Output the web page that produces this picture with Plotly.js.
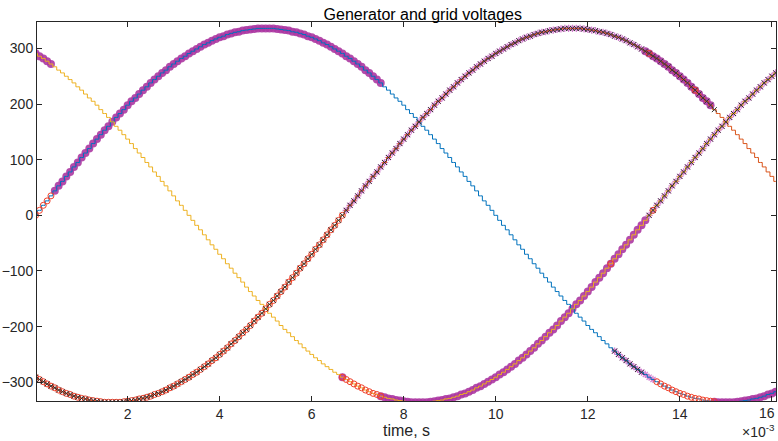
<!DOCTYPE html>
<html><head><meta charset="utf-8">
<script src="https://cdn.plot.ly/plotly-3.0.1.min.js"></script>
<style>html,body{margin:0;padding:0;background:#fff}#chart{width:778px;height:441px}</style>
</head><body><div id="chart"></div>
<script>
// time in milliseconds (axis shows x10^-3 s)
const timeMs = [
0,0.083,0.167,0.25,0.333,0.417,0.5,0.583,0.667,0.75,0.833,0.917,
1,1.083,1.167,1.25,1.333,1.417,1.5,1.583,1.667,1.75,1.833,1.917,
2,2.083,2.167,2.25,2.333,2.417,2.5,2.583,2.667,2.75,2.833,2.917,
3,3.083,3.167,3.25,3.333,3.417,3.5,3.583,3.667,3.75,3.833,3.917,
4,4.083,4.167,4.25,4.333,4.417,4.5,4.583,4.667,4.75,4.833,4.917,
5,5.083,5.167,5.25,5.333,5.417,5.5,5.583,5.667,5.75,5.833,5.917,
6,6.083,6.167,6.25,6.333,6.417,6.5,6.583,6.667,6.75,6.833,6.917,
7,7.083,7.167,7.25,7.333,7.417,7.5,7.583,7.667,7.75,7.833,7.917,
8,8.083,8.167,8.25,8.333,8.417,8.5,8.583,8.667,8.75,8.833,8.917,
9,9.083,9.167,9.25,9.333,9.417,9.5,9.583,9.667,9.75,9.833,9.917,
10,10.083,10.167,10.25,10.333,10.417,10.5,10.583,10.667,10.75,10.833,10.917,
11,11.083,11.167,11.25,11.333,11.417,11.5,11.583,11.667,11.75,11.833,11.917,
12,12.083,12.167,12.25,12.333,12.417,12.5,12.583,12.667,12.75,12.833,12.917,
13,13.083,13.167,13.25,13.333,13.417,13.5,13.583,13.667,13.75,13.833,13.917,
14,14.083,14.167,14.25,14.333,14.417,14.5,14.583,14.667,14.75,14.833,14.917,
15,15.083,15.167,15.25,15.333,15.417,15.5,15.583,15.667,15.75,15.833,15.917,
16,16.083,16.167];

const phaseA = [
0,9,18,26,35,44,53,61,70,78,87,95,104,112,120,129,137,145,153,160,168,176,183,190,198,205,211,218,225,231,238,244,250,256,261,267,272,277,282,286,291,295,299,303,307,310,314,317,320,322,325,327,329,330,332,333,334,335,336,336,336,
336,336,335,334,333,332,330,329,327,325,322,320,317,314,310,307,303,299,295,291,286,282,277,272,267,261,256,250,244,238,231,225,218,211,205,198,190,183,176,168,160,153,145,137,129,120,112,104,95,87,78,70,61,53,44,35,26,18,9,
0,-9,-18,-26,-35,-44,-53,-61,-70,-78,-87,-95,-104,-112,-120,-129,-137,-145,-153,-160,-168,-176,-183,-190,-198,-205,-211,-218,-225,-231,-238,-244,-250,-256,-261,-267,-272,-277,-282,-286,-291,-295,-299,-303,-307,-310,-314,-317,-320,-322,-325,-327,-329,-330,-332,-333,-334,-335,-336,-336,-336,
-336,-336,-335,-334,-333,-332,-330,-329,-327,-325,-322,-320,-317,-314];

const phaseB = [
-291,-295,-299,-303,-307,-310,-314,-317,-320,-322,-325,-327,-329,-330,-332,-333,-334,-335,-336,-336,-336,
-336,-336,-335,-334,-333,-332,-330,-329,-327,-325,-322,-320,-317,-314,-310,-307,-303,-299,-295,-291,-286,-282,-277,-272,-267,-261,-256,-250,-244,-238,-231,-225,-218,-211,-205,-198,-190,-183,-176,-168,-160,-153,-145,-137,-129,-120,-112,-104,-95,-87,-78,-70,-61,-53,-44,-35,-26,-18,-9,
0,9,18,26,35,44,53,61,70,78,87,95,104,112,120,129,137,145,153,160,168,176,183,190,198,205,211,218,225,231,238,244,250,256,261,267,272,277,282,286,291,295,299,303,307,310,314,317,320,322,325,327,329,330,332,333,334,335,336,336,336,
336,336,335,334,333,332,330,329,327,325,322,320,317,314,310,307,303,299,295,291,286,282,277,272,267,261,256,250,244,238,231,225,218,211,205,198,190,183,176,168,160,153,145,137,129,120,112,104,95,87,78,70,61,53];

const phaseC = [
291,286,282,277,272,267,261,256,250,244,238,231,225,218,211,205,198,190,183,176,168,160,153,145,137,129,120,112,104,95,87,78,70,61,53,44,35,26,18,9,
0,-9,-18,-26,-35,-44,-53,-61,-70,-78,-87,-95,-104,-112,-120,-129,-137,-145,-153,-160,-168,-176,-183,-190,-198,-205,-211,-218,-225,-231,-238,-244,-250,-256,-261,-267,-272,-277,-282,-286,-291,-295,-299,-303,-307,-310,-314,-317,-320,-322,-325,-327,-329,-330,-332,-333,-334,-335,-336,-336,-336,
-336,-336,-335,-334,-333,-332,-330,-329,-327,-325,-322,-320,-317,-314,-310,-307,-303,-299,-295,-291,-286,-282,-277,-272,-267,-261,-256,-250,-244,-238,-231,-225,-218,-211,-205,-198,-190,-183,-176,-168,-160,-153,-145,-137,-129,-120,-112,-104,-95,-87,-78,-70,-61,-53,-44,-35,-26,-18,-9,
0,9,18,26,35,44,53,61,70,78,87,95,104,112,120,129,137,145,153,160,168,176,183,190,198,205,211,218,225,231,238,244,250,256,261];

const xTickVals = [2,4,6,8,10,12,14,16];
const xTickText = ['2','4','6','8','10','12','14',''];
const lastTickLabel = '16';
const yTickVals = [-300,-200,-100,0,100,200,300];

// time windows (ms) where each kind of sample marker appears on each phase
const thickMarks  = {A: [[0.34,7.5],[14.7,16.2]], B: [[13.2,14.7]], C: [[0,0.34],[6.62,6.7],[7.5,13.3]]};
const lightMarks  = {A: [[12.55,13.45]], B: [[6.7,13.2]], C: [[13.3,16.2]]};
const circleMarks = {A: [[0,0.34],[13.45,14.75]], B: [[0,6.7],[13.26,13.34],[14.26,14.34]], C: [[6.66,7.5],[12.5,12.58],[13.38,13.42]]};
const crossMarks  = {A: [[12.55,13.2]], B: [[0,14.75]], C: [[13.3,16.2]]};

const phases = {A: phaseA, B: phaseB, C: phaseC};
function pick(segs) {
  const xs = [], ys = [];
  ['A','B','C'].forEach(p => {
    timeMs.forEach((t, i) => {
      if (segs[p].some(s => t >= s[0] - 1e-6 && t <= s[1] + 1e-6)) { xs.push(t); ys.push(phases[p][i]); }
    });
    xs.push(null); ys.push(null);
  });
  return {x: xs, y: ys};
}

const font = 'Liberation Sans, Arial, Helvetica, sans-serif';
const ink = '#262626';
const th = pick(thickMarks), lt = pick(lightMarks), ci = pick(circleMarks), cr = pick(crossMarks);

const traces = [
  {x: th.x, y: th.y, mode: 'markers', marker: {symbol: 'circle', size: 8, color: 'rgba(172,55,162,0.9)'}, hoverinfo: 'skip'},
  {x: lt.x, y: lt.y, mode: 'markers', marker: {symbol: 'asterisk-open', size: 6, color: 'rgba(205,105,200,0.85)', line: {width: 1.2, color: 'rgba(205,105,200,0.85)'}}},
  {x: timeMs, y: phaseA, mode: 'lines', line: {color: '#0072BD', width: 1, shape: 'hvh'}},
  {x: timeMs, y: phaseB, mode: 'lines', line: {color: '#D95319', width: 1, shape: 'hvh'}},
  {x: timeMs, y: phaseC, mode: 'lines', line: {color: '#EDB120', width: 1, shape: 'hvh'}},
  {x: ci.x, y: ci.y, mode: 'markers', marker: {symbol: 'circle-open', size: 6, color: '#F0402A', line: {width: 1, color: '#F0402A'}}},
  {x: cr.x, y: cr.y, mode: 'markers', marker: {symbol: 'x-thin-open', size: 5, color: '#333', line: {width: 1, color: '#333'}}}
];

const axisCommon = {
  ticks: 'inside', ticklen: 5, tickwidth: 1, tickcolor: ink,
  showline: true, linecolor: ink, linewidth: 1, mirror: 'ticks',
  showgrid: false, zeroline: false, ticklabeloverflow: 'allow',
  tickfont: {family: font, size: 14, color: ink}
};

const layout = {
  width: 778, height: 441,
  margin: {l: 37, r: 2, t: 22, b: 40},
  paper_bgcolor: '#fff', plot_bgcolor: '#fff',
  showlegend: false,
  title: {text: 'Generator and grid voltages', font: {family: font, size: 16, color: '#000'}, x: 0.522, xanchor: 'center', y: 0.968, yanchor: 'middle', xref: 'paper', yref: 'container'},
  xaxis: Object.assign({}, axisCommon, {
    range: [0.03, 16.09], tickvals: xTickVals, ticktext: xTickText,
    title: {text: 'time, s', font: {family: font, size: 16, color: ink}, standoff: 1}
  }),
  yaxis: Object.assign({}, axisCommon, {
    range: [-333.7, 347.5], tickvals: yTickVals
  }),
  annotations: [
    {text: lastTickLabel, xref: 'paper', yref: 'paper', x: 1.0012, y: -0.031,
     xanchor: 'right', yanchor: 'middle', showarrow: false, font: {family: font, size: 14, color: ink}},
    {text: '×10<sup>-3</sup>', xref: 'paper', yref: 'paper', x: 1.0012, y: -0.08,
     xanchor: 'right', yanchor: 'middle', showarrow: false, font: {family: font, size: 14, color: ink}}
  ]
};

Plotly.newPlot('chart', traces, layout, {displayModeBar: false, staticPlot: true});
</script>
</body></html>
